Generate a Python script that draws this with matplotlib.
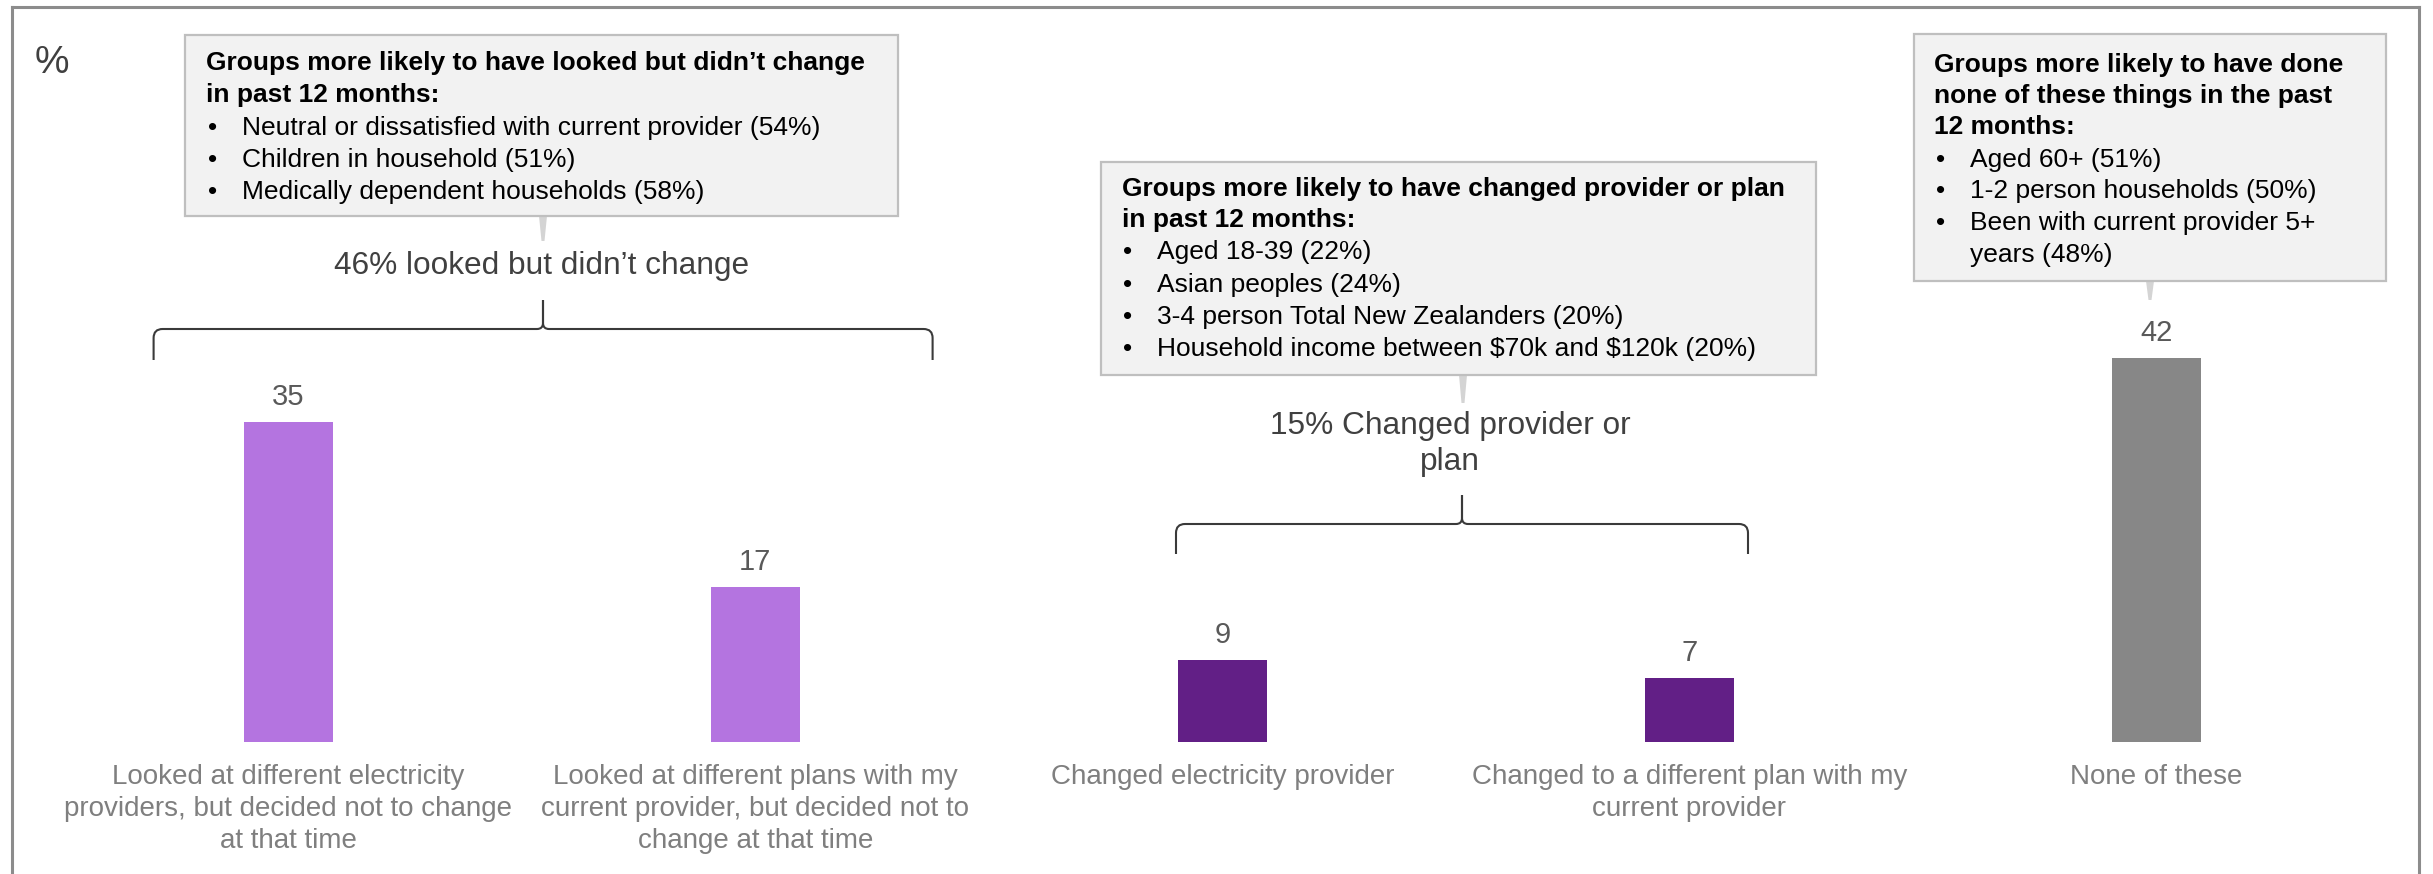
import matplotlib
matplotlib.use("Agg")
import matplotlib.pyplot as plt
from matplotlib.transforms import Affine2D
from matplotlib.patches import Rectangle, Polygon, PathPatch
from matplotlib.path import Path
from matplotlib.lines import Line2D

plt.rcParams['font.family'] = ['Liberation Sans', 'DejaVu Sans']

# ---------------- data ----------------
categories = [
    "Looked at different electricity\nproviders, but decided not to change\nat that time",
    "Looked at different plans with my\ncurrent provider, but decided not to\nchange at that time",
    "Changed electricity provider",
    "Changed to a different plan with my\ncurrent provider",
    "None of these",
]
values = [35, 17, 9, 7, 42]
bar_colors = ["#B474E0", "#B474E0", "#621F86", "#621F86", "#878787"]

group_labels = ["46% looked but didn\u2019t change", "15% Changed provider or\nplan"]

callout_left_head = ["Groups more likely to have looked but didn\u2019t change", "in past 12 months:"]
callout_left_items = ["Neutral or dissatisfied with current provider (54%)",
                      "Children in household (51%)",
                      "Medically dependent households (58%)"]
callout_mid_head = ["Groups more likely to have changed provider or plan", "in past 12 months:"]
callout_mid_items = ["Aged 18-39 (22%)", "Asian peoples (24%)",
                     "3-4 person Total New Zealanders (20%)",
                     "Household income between $70k and $120k (20%)"]
callout_right_head = ["Groups more likely to have done", "none of these things in the past", "12 months:"]
callout_right_items = ["Aged 60+ (51%)", "1-2 person households (50%)",
                       "Been with current provider 5+", "years (48%)"]

# ---------------- figure ----------------
W, H = 2433, 874
DPI = 100
fig = plt.figure(figsize=(W / DPI, H / DPI), dpi=DPI)
fig.patch.set_facecolor("white")

# pixel transform: (x from left, y from top) in image pixels
T = Affine2D().scale(1.0 / W, -1.0 / H).translate(0, 1) + fig.transFigure

ax = fig.add_axes([54.8 / W, (H - 742) / H, 2335.1 / W, 457.0 / H])
x = list(range(len(values)))
ax.bar(x, values, width=0.19, color=bar_colors, zorder=2)
ax.set_xlim(-0.5, len(values) - 0.5)
ax.set_ylim(0, 50)
ax.axis("off")

# value labels
for xi, v in zip(x, values):
    ax.annotate(f"{v}", xy=(xi, v), xytext=(0, 12), textcoords="offset points",
                ha="center", va="baseline", fontsize=21, color="#595959")

# category labels (line by line)
for xi, lab in zip(x, categories):
    for k, line in enumerate(lab.split("\n")):
        ax.annotate(line, xy=(xi, 0), xytext=(0, -(42 + 32 * k) * 0.72),
                    textcoords="offset points", ha="center", va="baseline",
                    fontsize=20, color="#7F7F7F", annotation_clip=False)

# frame
for xs, ys in [([12, 12], [7, 874]), ([12, 2419], [7, 7]), ([2419, 2419], [7, 874])]:
    fig.add_artist(Line2D(xs, ys, transform=T, color="#8C8C8C", lw=2.2))

# percent sign
fig.text(35, 73, "%", transform=T, fontsize=28, color="#404040", ha="left", va="baseline")


def brace(xl, xr, xm, y_line, y_end, y_tip, r=9, rm=6):
    for xe, s in [(xl, 1), (xr, -1)]:
        verts = [(xe, y_end), (xe, y_line + r), (xe, y_line), (xe + s * r, y_line),
                 (xm - s * rm, y_line), (xm, y_line), (xm, y_line - rm), (xm, y_tip)]
        codes = [Path.MOVETO, Path.LINETO, Path.CURVE3, Path.CURVE3,
                 Path.LINETO, Path.CURVE3, Path.CURVE3, Path.LINETO]
        fig.add_artist(PathPatch(Path(verts, codes), transform=T, fill=False,
                                 edgecolor="#3A3A3A", lw=1.5))


brace(153.6, 932.6, 543, 329, 360, 300)
brace(1176, 1748, 1462, 524, 554, 495)

# group labels
for (cx, by), lab in zip([(542, 274), (1450, 434)], group_labels):
    for k, line in enumerate(lab.split("\n")):
        fig.text(cx, by + 36 * k, line, transform=T, ha="center", va="baseline",
                 fontsize=22.8, color="#404040")


def callout(x0, y0, x1, y1, px, ptip, head, items, tx, ix, baselines):
    fig.add_artist(Polygon([(px - 4, y1), (px + 4, y1), (px + 1.5, ptip), (px - 1.5, ptip)],
                           closed=True, transform=T, facecolor="#D4D4D4", edgecolor="none"))
    fig.add_artist(Rectangle((x0, y0), x1 - x0, y1 - y0, transform=T,
                             facecolor="#F2F2F2", edgecolor="#BFBFBF", lw=1.6))
    k = 0
    for line in head:
        fig.text(tx, baselines[k], line, transform=T, ha="left", va="baseline",
                 fontsize=19, fontweight="bold", color="black", parse_math=False)
        k += 1
    for item in items:
        if not item.startswith("years"):
            fig.text(tx + 2, baselines[k], "\u2022", transform=T, ha="left", va="baseline",
                     fontsize=19, color="black")
        fig.text(ix, baselines[k], item, transform=T, ha="left", va="baseline",
                 fontsize=19, color="black", parse_math=False)
        k += 1


callout(185, 35, 898, 216, 543, 241, callout_left_head, callout_left_items,
        206, 242, [70, 102, 135, 167, 199])
callout(1101, 162, 1816, 375, 1463, 403, callout_mid_head, callout_mid_items,
        1121.5, 1157, [196, 227, 259, 292, 324, 356])
callout(1913.5, 34, 2385.5, 281, 2150, 300, callout_right_head, callout_right_items,
        1933.6, 1970, [72, 103, 134, 167, 198, 230, 262])

fig.savefig("out.png", dpi=DPI)
